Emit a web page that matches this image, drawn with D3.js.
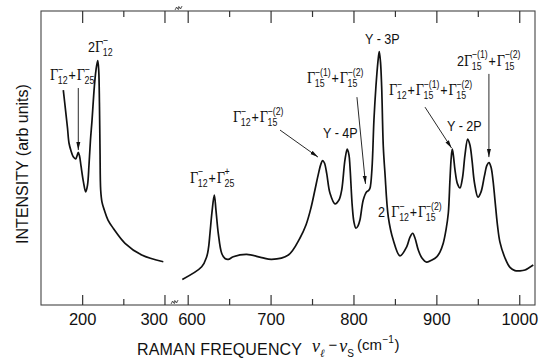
<!DOCTYPE html>
<html><head><meta charset="utf-8">
<script src="https://cdn.jsdelivr.net/npm/d3@7"></script>
<style>body{margin:0;background:#fff}svg{display:block}</style>
</head><body><svg id="c" width="542" height="360"></svg>
<script>
// ---------- data ----------
const leftFreq = [177.1,179.8,182.2,184.0,186.5,189.2,192.2,193.7,195.3,196.8,198.6,201.6,204.3,206.5,208.3,210.1,212.0,214.8,216.8,218.9,220.1,221.0,221.7,222.5,224.1,226.9,231.4,237.8,252.1,272.4,298.6];
const leftIntensity = [73.1,66.3,60.2,55.1,52.4,50.4,49.7,50.7,51.9,50.7,47.3,41.8,38.5,40.8,47.6,56.1,62.9,74.3,79.9,83.1,79.9,68.7,52.7,39.1,35.0,32.3,28.9,26.1,21.0,17.0,14.7];
const rightFreq = [593.5,616.9,622.9,625.1,626.9,629.3,632.1,634.1,636.9,641.0,645.0,649.0,655.0,671.2,689.3,701.3,721.4,735.5,742.7,748.7,753.5,757.7,760.8,762.8,765.0,767.7,771.7,777.7,782.5,785.8,789.7,792.5,794.6,795.8,798.6,800.6,803.0,805.5,807.8,811.8,815.9,818.1,819.9,822.3,824.7,827.1,829.5,831.1,832.6,834.0,836.0,838.0,842.0,848.0,856.1,864.2,868.2,871.4,874.2,878.2,882.6,888.3,894.7,900.4,904.3,908.3,911.6,914.4,916.4,917.9,919.2,920.6,922.5,925.5,928.5,931.5,934.5,937.8,940.5,943.0,946.0,950.2,953.8,958.0,961.1,963.5,965.9,968.3,970.7,973.7,976.7,982.8,988.8,994.8,1000.9,1006.9,1016.9];
const rightIntensity = [8.7,13.0,16.4,19.4,24.4,31.6,37.4,32.3,24.4,17.6,15.8,15.5,16.4,17.2,16.1,15.5,17.0,22.8,27.2,33.0,39.1,44.6,48.0,49.1,48.3,44.8,38.0,34.4,35.7,39.1,49.3,53.0,51.0,47.0,33.4,28.2,26.1,26.9,28.9,35.7,38.5,38.9,39.7,46.3,62.9,74.3,82.7,86.2,82.7,74.3,53.8,44.8,30.0,22.1,16.7,19.8,23.1,24.4,22.8,18.7,16.0,14.6,15.3,16.4,18.0,21.0,25.5,31.2,42.5,50.0,53.0,50.7,45.9,41.2,39.8,43.2,51.0,56.4,54.4,49.3,41.5,36.7,38.4,43.9,47.6,48.4,46.9,42.5,35.7,27.2,21.4,16.0,12.8,11.7,11.6,11.9,13.6];
const majorTicks = [200,300,600,700,800,900,1000];
const minorTicks = [250,650,750,850,950];
const tickLabels = ["200","300","600","700","800","900","1000"];

// annotations: label parts, anchor (freq, intensity)
const labelParts = [
  [{s:"12",p:"−"},"+",{s:"25",p:"−"}],
  ["2",{s:"12",p:"−"}],
  [{s:"12",p:"−"},"+",{s:"25",p:"+"}],
  [{s:"12",p:"−"},"+",{s:"15",p:"−(2)"}],
  ["Y - 4P"],
  [{s:"15",p:"−(1)"},"+",{s:"15",p:"−(2)"}],
  ["Y - 3P"],
  [{s:"12",p:"−"},"+",{s:"15",p:"−(1)"},"+",{s:"15",p:"−(2)"}],
  ["Y - 2P"],
  ["2",{s:"15",p:"−(1)"},"+",{s:"15",p:"−(2)"}],
  ["2\u2002",{s:"12",p:"−"},"+",{s:"15",p:"−(2)"}]
];
const labelFreq = [160.9,207.1,602.8,654.7,763.2,743.9,813.9,842.9,912.8,924.9,829.6];
const labelIntensity = [76.5,86.1,41.5,62.2,56.8,75.5,88.8,71.4,59.2,81.3,29.9];
const arrowFromFreq = [195.3,711.4,804.2,886.3,963.4];
const arrowFromI = [73.8,59.5,70.7,67.3,78.6];
const arrowToFreq = [195.3,757.2,814.5,918.3,963.4];
const arrowToI = [52.7,50.3,41.2,53.4,50.3];

// ---------- drawing ----------
const svg = d3.select("#c");
const SANS = "'Liberation Sans', Arial, sans-serif";
const SERIF = "'Liberation Serif', 'DejaVu Serif', serif";
const x = d3.scaleLinear().domain([150,310,590,1019]).range([41,172.7,179.4,535]);
const y = d3.scaleLinear().domain([0,100]).range([305,11]);
const ink = "#111";

// frame
svg.append("rect").attr("x",41).attr("y",11).attr("width",535-41).attr("height",305-11)
  .attr("fill","none").attr("stroke","#444").attr("stroke-width",1.1);

// bottom axis
const axB = svg.append("g").attr("transform","translate(0,305)")
  .call(d3.axisBottom(x).tickValues(majorTicks).tickSize(-10).tickSizeOuter(0).tickPadding(8)
        .tickFormat((d,i)=>tickLabels[i]));
axB.select(".domain").remove();
axB.selectAll(".tick line").attr("stroke","#333").attr("stroke-width",1.2);
axB.selectAll(".tick text").attr("font-family",SANS).attr("font-size",16.5).attr("fill",ink)
  .each(function(d){
    const t = d3.select(this);
    if (d===300) t.attr("text-anchor","end").attr("x",3);
    if (d===600) t.attr("text-anchor","start").attr("x",-10);
  });
const axBm = svg.append("g").attr("transform","translate(0,305)")
  .call(d3.axisBottom(x).tickValues(minorTicks).tickSize(-6).tickSizeOuter(0).tickFormat(""));
axBm.select(".domain").remove();
axBm.selectAll(".tick line").attr("stroke","#333").attr("stroke-width",1.2);

// top axis
const axT = svg.append("g").attr("transform","translate(0,11)")
  .call(d3.axisTop(x).tickValues(majorTicks).tickSize(-12).tickSizeOuter(0).tickFormat(""));
axT.select(".domain").remove();
axT.selectAll(".tick line").attr("stroke","#333").attr("stroke-width",1.2);
const axTm = svg.append("g").attr("transform","translate(0,11)")
  .call(d3.axisTop(x).tickValues(minorTicks).tickSize(-6).tickSizeOuter(0).tickFormat(""));
axTm.select(".domain").remove();
axTm.selectAll(".tick line").attr("stroke","#333").attr("stroke-width",1.2);

// break marks
const bx = (x(310)+x(590))/2;
[[bx-2,302],[bx+2,8]].forEach(([cx,cy])=>{
  for (let k=0;k<2;k++){
    svg.append("path")
      .attr("d",`M${cx-3+k*3},${cy+2} l1.5,-3 l1,2 l1.5,-3`)
      .attr("fill","none").attr("stroke","#333").attr("stroke-width",0.8);
  }
});

// curve
const line = d3.line().x(d=>x(d[0])).y(d=>y(d[1])).curve(d3.curveCatmullRom.alpha(0.5));
svg.append("path").attr("d",line(leftFreq.map((f,i)=>[f,leftIntensity[i]])))
  .attr("fill","none").attr("stroke",ink).attr("stroke-width",1.7);
svg.append("path").attr("d",line(rightFreq.map((f,i)=>[f,rightIntensity[i]])))
  .attr("fill","none").attr("stroke",ink).attr("stroke-width",1.7);

// arrows
svg.append("defs").append("marker").attr("id","ah").attr("viewBox","0 -3 10 6")
  .attr("refX",10).attr("refY",0).attr("markerWidth",8).attr("markerHeight",5)
  .attr("markerUnits","userSpaceOnUse").attr("orient","auto")
  .append("path").attr("d","M0,-2.5L10,0L0,2.5Z").attr("fill",ink);
arrowFromFreq.forEach((f,i)=>{
  svg.append("line").attr("x1",x(f)).attr("y1",y(arrowFromI[i]))
    .attr("x2",x(arrowToFreq[i])).attr("y2",y(arrowToI[i]))
    .attr("stroke",ink).attr("stroke-width",0.9).attr("marker-end","url(#ah)");
});

// labels (narrow lettering: horizontally compressed)
function drawLabel(parts, px, py){
  const g = svg.append("g").attr("transform",`translate(${px},${py}) scale(0.84,1)`).attr("fill",ink);
  let cx = 0;
  parts.forEach(p=>{
    if (typeof p === "string"){
      const t = g.append("text").attr("x",cx).attr("font-family",SANS).attr("font-size",15).text(p);
      cx += t.node().getComputedTextLength() + (p==="+"?1:0);
    } else {
      const t = g.append("text").attr("x",cx).attr("font-family",SERIF).attr("font-size",17).text("Γ");
      cx += t.node().getComputedTextLength() - 0.5;
      const s = g.append("text").attr("x",cx).attr("y",4).attr("font-family",SANS).attr("font-size",10.5).text(p.s);
      let w = s.node().getComputedTextLength();
      const u = g.append("text").attr("x",cx).attr("y",-7.5).attr("font-family",SANS).attr("font-size",10.5).text(p.p);
      w = Math.max(w, u.node().getComputedTextLength());
      cx += w + 1;
    }
  });
}
labelParts.forEach((parts,i)=>drawLabel(parts, x(labelFreq[i]), y(labelIntensity[i])));

// axis titles
svg.append("text").attr("transform","translate(28,164) rotate(-90)").attr("text-anchor","middle")
  .attr("font-family",SANS).attr("font-size",16).attr("fill",ink).text("INTENSITY (arb units)");

const xl = svg.append("g").attr("fill",ink).attr("font-family",SANS);
xl.append("text").attr("x",137).attr("y",355).attr("font-size",16).attr("textLength",165)
  .attr("lengthAdjust","spacing").text("RAMAN FREQUENCY");
let cur = 312;
function put(txt, dy, size, opts, gap){
  const t = xl.append("text").attr("x",cur).attr("y",dy).attr("font-size",size).text(txt);
  if (opts && opts.serif) t.attr("font-family",SERIF).attr("font-style","italic");
  cur += t.node().getComputedTextLength() + (gap||0);
}
put("ν",352,18,{serif:1},0);
put("ℓ",357,11,{serif:1},4);
put("−",350,15,null,2);
put("ν",352,18,{serif:1},0);
put("S",357,10,null,3);
put("(cm",350,15,null,0.5);
put("−1",343,10,null,0.5);
put(")",350,15,null,0);
</script></body></html>
